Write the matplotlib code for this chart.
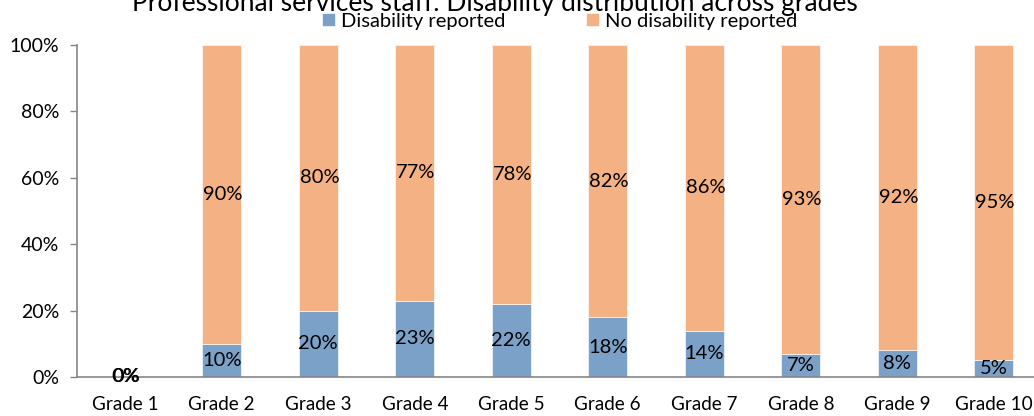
import matplotlib
matplotlib.use("Agg")
import matplotlib.pyplot as plt
import numpy as np

categories = ["Grade 1", "Grade 2", "Grade 3", "Grade 4", "Grade 5",
              "Grade 6", "Grade 7", "Grade 8", "Grade 9", "Grade 10"]
disability = [0, 10, 20, 23, 22, 18, 14, 7, 8, 5]
no_disability = [0, 90, 80, 77, 78, 82, 86, 93, 92, 95]
yticks = [0, 20, 40, 60, 80, 100]
title = "Professional services staff: Disability distribution across grades"
series_names = ["Disability reported", "No disability reported"]

plt.rcParams['font.family'] = ['Lato', 'DejaVu Sans']

fig = plt.figure(figsize=(10.34, 4.16), dpi=100)
ax = fig.add_axes([77/1034, 39/416, 965/1034, 332/416])

x = np.arange(len(categories))
blue = "#7BA1C8"
orange = "#F4B183"
b1 = ax.bar(x, disability, width=0.4, color=blue, edgecolor="#EEF3F8", linewidth=0.6,
            label=series_names[0])
b2 = ax.bar(x, no_disability, width=0.4, bottom=disability, color=orange,
            edgecolor="#FDF3EC", linewidth=0.6, label=series_names[1])

for i in range(len(categories)):
    d = disability[i]
    n = no_disability[i]
    ax.text(x[i], d / 2, f"{d}%", ha="center", va="center", fontsize=14.5, color="black")
    ax.text(x[i] + 0.012, d + n / 2, f"{n}%", ha="center", va="center", fontsize=14.5, color="black")

ax.set_xlim(-0.5, 9.5)
ax.set_ylim(0, 100)
ax.set_yticks(yticks)
ax.set_yticklabels([f"{v}%" for v in yticks], fontsize=14)
ax.set_xticks(x)
ax.set_xticklabels(categories, fontsize=13.6)
ax.tick_params(axis='x', length=0, pad=14)
ax.tick_params(axis='y', length=5, width=1, color="#868686", pad=8)
for s in ["top", "right"]:
    ax.spines[s].set_visible(False)
for s in ["left", "bottom"]:
    ax.spines[s].set_color("#868686")
    ax.spines[s].set_linewidth(1.2)

fig.text(495/1034, 1 - 4/416, title, ha="center", va="center", fontsize=19)
fig.legend(handles=[b1, b2], loc="center", bbox_to_anchor=(560/1034, 1 - 21/416),
           ncol=2, frameon=False, fontsize=14.5, handlelength=0.65, handleheight=0.65,
           handletextpad=0.3, columnspacing=4.0, borderaxespad=0)

fig.savefig("out.png", dpi=100)
